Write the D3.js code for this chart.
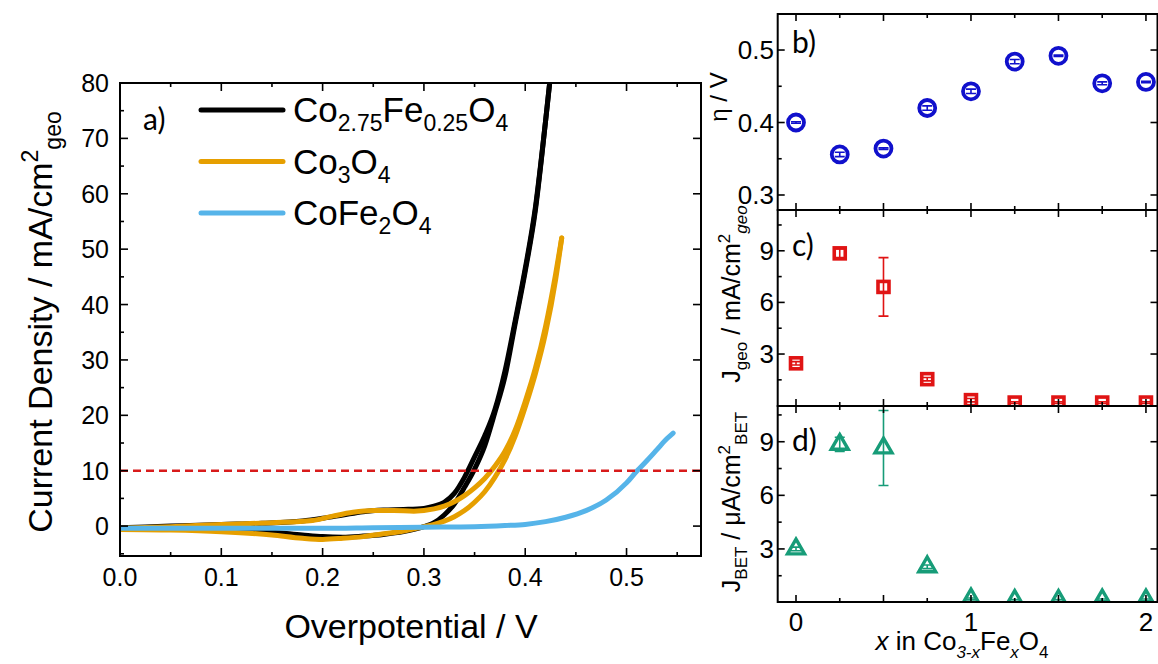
<!DOCTYPE html>
<html><head><meta charset="utf-8">
<script src="https://cdn.jsdelivr.net/npm/d3@7"></script>
<style>
body{margin:0;background:#fff}
svg{display:block}
text{font-family:"Liberation Sans",Arial,sans-serif;fill:#000}
</style>
</head><body><script>
// ---------------- DATA ----------------
// Panel a) polarization curves (overpotential V, current density mA/cm2)
const blackFwdV = [0.00,0.05,0.10,0.14,0.18,0.20,0.22,0.24,0.26,0.28,0.30,0.31,0.32,0.33,0.34,0.35,0.36,0.37,0.38,0.39,0.40,0.41,0.42,0.43];
const blackFwdJ = [-0.3,0.0,0.3,0.5,0.9,1.4,2.0,2.6,2.9,3.0,3.2,3.6,4.3,5.9,8.8,12.5,16.3,21.0,28.0,37.0,46.5,57.5,73.0,90.0];
const blackRevV = [0.43,0.42,0.41,0.40,0.39,0.38,0.37,0.36,0.35,0.34,0.33,0.32,0.31,0.30,0.28,0.26,0.24,0.22,0.20,0.18,0.15,0.10,0.05,0.00];
const blackRevJ = [90,73,57,46,36.5,27,20.5,14.5,10.3,7.0,4.0,2.0,0.6,-0.1,-1.0,-1.5,-1.8,-2.0,-1.9,-1.6,-1.1,-0.6,-0.5,-0.5];
const goldFwdV = [0.00,0.05,0.10,0.15,0.19,0.21,0.23,0.25,0.27,0.29,0.31,0.32,0.33,0.34,0.35,0.36,0.37,0.38,0.39,0.40,0.41,0.42,0.43,0.436];
const goldFwdJ = [-0.4,-0.1,0.3,0.6,1.0,1.8,2.5,2.8,2.8,2.7,3.1,3.6,4.4,5.5,6.9,8.6,10.8,13.5,17.3,22.5,28.5,36.0,45.5,52.0];
const goldRevV = [0.436,0.43,0.42,0.41,0.40,0.39,0.38,0.37,0.36,0.35,0.34,0.33,0.32,0.31,0.30,0.28,0.26,0.24,0.22,0.20,0.18,0.15,0.10,0.05,0.00];
const goldRevJ = [52,44.5,34.8,27.5,21.5,16.2,12.0,8.8,6.2,4.3,2.8,1.7,0.9,0.3,-0.1,-0.9,-1.4,-1.9,-2.2,-2.4,-2.2,-1.6,-1.0,-0.7,-0.6];
const blueV = [0.00,0.05,0.10,0.15,0.20,0.25,0.30,0.35,0.38,0.40,0.42,0.44,0.46,0.48,0.50,0.51,0.52,0.53,0.54,0.546];
const blueJ = [-0.4,-0.4,-0.4,-0.4,-0.4,-0.3,-0.2,-0.1,0.1,0.3,0.8,1.6,2.8,4.7,7.8,9.9,11.8,13.8,15.8,16.8];
const refJ = 10;
const legendNames = ["Co2.75Fe0.25O4","Co3O4","CoFe2O4"];
const seriesColors = ["#000000","#E69F00","#56B4E9"];
const aXMajor = [0,0.1,0.2,0.3,0.4,0.5];
const aXMinor = [0.05,0.15,0.25,0.35,0.45,0.55];
const aYMajor = [0,10,20,30,40,50,60,70,80];
const aYMinor = [-5,5,15,25,35,45,55,65,75];

// Panels b-d: composition x in Co3-xFexO4
const xComp = [0,0.25,0.5,0.75,1,1.25,1.5,1.75,2];
const eta = [0.400,0.356,0.364,0.420,0.443,0.484,0.492,0.454,0.456];
const etaErr = [0.001,0.003,0.001,0.003,0.003,0.003,0.001,0.002,0.001];
const jGeo = [2.46,8.85,6.9,1.54,0.32,0.18,0.18,0.18,0.18];
const jGeoErr = [0.1,0.25,1.7,0.1,0.1,0.05,0.05,0.05,0.05];
const jBet = [3.0,8.85,8.65,2.0,0.2,0.12,0.12,0.15,0.15];
const jBetErr = [0.1,0.4,2.1,0.1,0.05,0.05,0.05,0.05,0.05];
const rXMajor = [0,0.5,1,1.5,2];
const rXMinor = [0.25,0.75,1.25,1.75];
const rXLabels = [0,1,2];
const bYMajor = [0.3,0.4,0.5];
const bYMinor = [0.35,0.45];
const cdYMajor = [3,6,9];
const cdYMinor = [1.5,4.5,7.5,10.5];

// ---------------- SETUP ----------------
const W = 1158, H = 664;
const svg = d3.select("body").append("svg").attr("width", W).attr("height", H);
const defs = svg.append("defs");

function rich(g, parts, o) {
  const size = o.size, sub = o.subSize || Math.round(size * 0.65);
  const t = g.append("text").attr("font-size", size).attr("text-anchor", o.anchor || "middle");
  if (o.rotate) t.attr("transform", `translate(${o.x},${o.y}) rotate(-90)`);
  else t.attr("x", o.x).attr("y", o.y);
  let cur = 0;
  parts.forEach(p => {
    const target = p.sub ? size * (o.subShift || 0.27) : p.sup ? -size * (o.supShift || 0.42) : 0;
    const ts = t.append("tspan").text(p.t).attr("dy", target - cur);
    if (p.sub || p.sup) ts.attr("font-size", sub);
    if (p.it) ts.attr("font-style", "italic");
    cur = target;
  });
  return t;
}

function clip(id, x0, y0, x1, y1) {
  defs.append("clipPath").attr("id", id).append("rect")
    .attr("x", x0).attr("y", y0).attr("width", x1 - x0).attr("height", y1 - y0);
  return `url(#${id})`;
}

// ---------------- PANEL A ----------------
const A = {x0: 120, x1: 701, y0: 83, y1: 556};
const xa = d3.scaleLinear().domain([0, 0.5735]).range([A.x0, A.x1]);
const ya = d3.scaleLinear().domain([-5.4, 80]).range([A.y1, A.y0]);
const gA = svg.append("g");
const clipA = clip("clipA", A.x0, A.y0, A.x1, A.y1);

const line = d3.line().x(d => xa(d[0])).y(d => ya(d[1])).curve(d3.curveMonotoneX);
const zip = (a, b) => a.map((v, i) => [v, b[i]]).sort((p, q) => p[0] - q[0]);
const curves = [
  {pts: zip(blackFwdV, blackFwdJ), c: seriesColors[0]},
  {pts: zip(blackRevV, blackRevJ), c: seriesColors[0]},
  {pts: zip(goldFwdV, goldFwdJ), c: seriesColors[1]},
  {pts: zip(goldRevV, goldRevJ), c: seriesColors[1]},
  {pts: zip(blueV, blueJ), c: seriesColors[2]}
];
const gCurves = gA.append("g").attr("clip-path", clipA);
curves.forEach(s => {
  gCurves.append("path").attr("d", line(s.pts)).attr("fill", "none")
    .attr("stroke", s.c).attr("stroke-width", 5).attr("stroke-linejoin", "round").attr("stroke-linecap", "round");
});
gCurves.append("line").attr("x1", xa(0)).attr("x2", A.x1).attr("y1", ya(refJ)).attr("y2", ya(refJ))
  .attr("stroke", "#D81B1B").attr("stroke-width", 2.6).attr("stroke-dasharray", "8,5");

// frame & ticks
gA.append("rect").attr("x", A.x0).attr("y", A.y0).attr("width", A.x1 - A.x0).attr("height", A.y1 - A.y0)
  .attr("fill", "none").attr("stroke", "#000").attr("stroke-width", 2);
const tk = gA.append("g").attr("stroke", "#000").attr("stroke-width", 1.6);
aXMajor.forEach(v => {
  tk.append("line").attr("x1", xa(v)).attr("x2", xa(v)).attr("y1", A.y1).attr("y2", A.y1 - 8);
  tk.append("line").attr("x1", xa(v)).attr("x2", xa(v)).attr("y1", A.y0).attr("y2", A.y0 + 8);
});
aXMinor.filter(v => xa(v) < A.x1 - 2).forEach(v => {
  tk.append("line").attr("x1", xa(v)).attr("x2", xa(v)).attr("y1", A.y1).attr("y2", A.y1 - 4);
  tk.append("line").attr("x1", xa(v)).attr("x2", xa(v)).attr("y1", A.y0).attr("y2", A.y0 + 4);
});
aYMajor.forEach(v => {
  tk.append("line").attr("x1", A.x0).attr("x2", A.x0 + 8).attr("y1", ya(v)).attr("y2", ya(v));
  tk.append("line").attr("x1", A.x1).attr("x2", A.x1 - 8).attr("y1", ya(v)).attr("y2", ya(v));
});
aYMinor.forEach(v => {
  tk.append("line").attr("x1", A.x0).attr("x2", A.x0 + 4).attr("y1", ya(v)).attr("y2", ya(v));
});
aXMajor.forEach(v => {
  gA.append("text").attr("x", xa(v)).attr("y", 586).attr("text-anchor", "middle").attr("font-size", 25)
    .text(d3.format(".1f")(v));
});
aYMajor.forEach(v => {
  gA.append("text").attr("x", 109).attr("y", ya(v) + 9).attr("text-anchor", "end").attr("font-size", 25).text(v);
});
// axis titles
gA.append("text").attr("x", 411).attr("y", 638).attr("text-anchor", "middle").attr("font-size", 34)
  .text("Overpotential / V");
rich(gA, [{t: "Current Density / mA/cm"}, {t: "2", sup: true}, {t: "geo", sub: true}],
  {x: 52, y: 322, size: 34, subSize: 23, rotate: true});
gA.append("text").attr("x", 143).attr("y", 130).attr("font-size", 30).style("font-family", "Lato, sans-serif").text("a)");

// legend
const legParts = [
  [{t: "Co"}, {t: "2.75", sub: true}, {t: "Fe"}, {t: "0.25", sub: true}, {t: "O"}, {t: "4", sub: true}],
  [{t: "Co"}, {t: "3", sub: true}, {t: "O"}, {t: "4", sub: true}],
  [{t: "CoFe"}, {t: "2", sub: true}, {t: "O"}, {t: "4", sub: true}]
];
legendNames.forEach((n, i) => {
  const yy = 110 + i * 51.5;
  gA.append("line").attr("x1", 201).attr("x2", 283).attr("y1", yy).attr("y2", yy)
    .attr("stroke", seriesColors[i]).attr("stroke-width", 5).attr("stroke-linecap", "round");
  rich(gA, legParts[i], {x: 293, y: yy + 12, size: 35, subSize: 23, anchor: "start", subShift: 0.26});
});

// ---------------- PANELS B-D ----------------
const R = {x0: 777.7, x1: 1157.5};
const xr = d3.scaleLinear().domain([-0.1046, 2.066]).range([R.x0, R.x1]);
const panels = [
  {id: "b", y0: 14, y1: 210, dom: [0.2793, 0.5497], vals: eta, err: etaErr, color: "#1010CC", mark: "circle",
   maj: bYMajor, min: bYMinor, fmt: d3.format(".1f"), lab: "b)", labY: 53},
  {id: "c", y0: 210, y1: 406, dom: [-0.02, 11.37], vals: jGeo, err: jGeoErr, color: "#E01414", mark: "square",
   maj: cdYMajor, min: cdYMinor, fmt: d3.format("d"), lab: "c)", labY: 256},
  {id: "d", y0: 406, y1: 602, dom: [0.03, 11.0], vals: jBet, err: jBetErr, color: "#179C78", mark: "triangle",
   maj: cdYMajor, min: cdYMinor, fmt: d3.format("d"), lab: "d)", labY: 451}
];
panels.forEach(p => {
  const g = svg.append("g");
  const y = d3.scaleLinear().domain(p.dom).range([p.y1, p.y0]);
  const cp = clip("clip" + p.id, R.x0, p.y0, R.x1, p.y1);
  const gm = g.append("g").attr("clip-path", cp);
  // error bars
  xComp.forEach((xv, i) => {
    const e = p.err[i], v = p.vals[i];
    const eb = gm.append("g").attr("stroke", p.color).attr("stroke-width", 1.6);
    eb.append("line").attr("x1", xr(xv)).attr("x2", xr(xv)).attr("y1", y(v - e)).attr("y2", y(v + e));
    [v - e, v + e].forEach(t => eb.append("line").attr("x1", xr(xv) - 5).attr("x2", xr(xv) + 5).attr("y1", y(t)).attr("y2", y(t)));
  });
  // markers
  xComp.forEach((xv, i) => {
    const cx = xr(xv), cy = y(p.vals[i]);
    if (p.mark === "circle") {
      gm.append("circle").attr("cx", cx).attr("cy", cy).attr("r", 8).attr("fill", "none")
        .attr("stroke", p.color).attr("stroke-width", 3.8);
    } else if (p.mark === "square") {
      gm.append("rect").attr("x", cx - 5.5).attr("y", cy - 5.5).attr("width", 11).attr("height", 11).attr("fill", "none")
        .attr("stroke", p.color).attr("stroke-width", 3.6);
    } else {
      gm.append("path").attr("d", d3.symbol(d3.symbolTriangle, 125)()).attr("transform", `translate(${cx},${cy})`)
        .attr("fill", "none").attr("stroke", p.color).attr("stroke-width", 3.4).attr("stroke-linejoin", "miter");
    }
  });
  // frame
  g.append("rect").attr("x", R.x0).attr("y", p.y0).attr("width", R.x1 - R.x0).attr("height", p.y1 - p.y0)
    .attr("fill", "none").attr("stroke", "#000").attr("stroke-width", 2);
  const t = g.append("g").attr("stroke", "#000").attr("stroke-width", 1.6);
  rXMajor.forEach(v => {
    t.append("line").attr("x1", xr(v)).attr("x2", xr(v)).attr("y1", p.y1).attr("y2", p.y1 - 7);
    t.append("line").attr("x1", xr(v)).attr("x2", xr(v)).attr("y1", p.y0).attr("y2", p.y0 + 7);
  });
  rXMinor.forEach(v => {
    t.append("line").attr("x1", xr(v)).attr("x2", xr(v)).attr("y1", p.y1).attr("y2", p.y1 - 4);
    t.append("line").attr("x1", xr(v)).attr("x2", xr(v)).attr("y1", p.y0).attr("y2", p.y0 + 4);
  });
  p.maj.forEach(v => {
    t.append("line").attr("x1", R.x0).attr("x2", R.x0 + 7).attr("y1", y(v)).attr("y2", y(v));
    t.append("line").attr("x1", R.x1).attr("x2", R.x1 - 7).attr("y1", y(v)).attr("y2", y(v));
    g.append("text").attr("x", 774).attr("y", y(v) + 9).attr("text-anchor", "end").attr("font-size", 26).text(p.fmt(v));
  });
  p.min.forEach(v => {
    t.append("line").attr("x1", R.x0).attr("x2", R.x0 + 4).attr("y1", y(v)).attr("y2", y(v));
  });
  g.append("text").attr("x", 792).attr("y", p.labY).attr("font-size", 30).style("font-family", "Lato, sans-serif").text(p.lab);
});
// right y titles
rich(svg, [{t: "η / V"}], {x: 727, y: 97, size: 24, rotate: true});
rich(svg, [{t: "J"}, {t: "geo", sub: true}, {t: " / mA/cm"}, {t: "2", sup: true}, {t: "geo", sub: true, it: true}],
  {x: 740, y: 294, size: 25, subSize: 17, rotate: true});
rich(svg, [{t: "J"}, {t: "BET", sub: true}, {t: " / μA/cm"}, {t: "2", sup: true}, {t: "BET", sub: true}],
  {x: 740, y: 502, size: 25, subSize: 17, rotate: true});
// bottom x tick labels and title
rXLabels.forEach(v => {
  svg.append("text").attr("x", xr(v)).attr("y", 631).attr("text-anchor", "middle").attr("font-size", 26).text(v);
});
rich(svg, [{t: "x", it: true}, {t: " in Co"}, {t: "3-x", sub: true, it: true}, {t: "Fe"}, {t: "x", sub: true, it: true}, {t: "O"}, {t: "4", sub: true}],
  {x: 962, y: 650, size: 26, subSize: 17, subShift: 0.3});
</script></body></html>
